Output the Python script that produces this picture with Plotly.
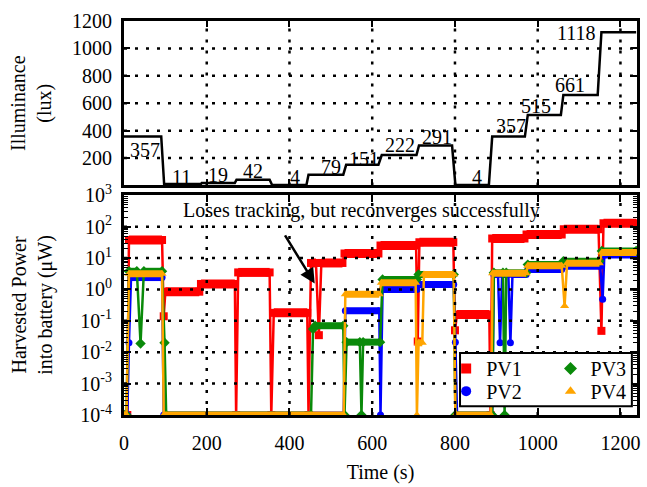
import math
import plotly.graph_objects as go

# ---------------- data ----------------
# Illuminance steps (lux)
seg_start = [0, 97, 188, 272, 358, 446, 537, 623, 713, 801, 890, 976, 1062, 1154]
seg_end = [90, 186, 268, 352, 441, 530, 615, 707, 793, 882, 969, 1056, 1145, 1238]
lux_levels = [357, 11, 19, 42, 4, 79, 151, 222, 291, 4, 357, 515, 661, 1118]

# label placement for the lux values (time, lux)
label_t = [50, 138, 227, 311, 413, 500, 579, 668, 757, 854, 935, 995, 1079, 1094]
label_y = [258, 64, 79, 107, 64, 136, 195, 293, 351, 64, 437, 580, 730, 1116]

B = 1e-4  # floor of the log axis
pv1_t = [0, 8, 12, 92, 96, 100, 182, 186, 268, 271, 276, 352, 356, 362, 443, 446, 452,
         464, 471, 477, 528, 533, 615, 620, 706, 710, 714, 796, 800, 805, 883, 886, 890,
         968, 973, 1058, 1063, 1147, 1154, 1159, 1238]
pv1_v = [B, B, 38, 38, 0.14, 0.85, 0.85, 1.5, 1.5, B, 3.5, 3.5, B, 0.18, 0.18, B, 7,
         7, 0.035, 7, 7, 14, 14, 25, 25, 0.022, 32, 32, 0.05, 0.16, 0.16, B, 42,
         42, 57, 57, 83, 83, 0.048, 130, 130]

pv2_t = [0, 8, 12, 17, 92, 96, 531, 535, 617, 620, 625, 708, 712, 797, 801, 805, 890,
         894, 904, 909, 914, 929, 934, 939, 972, 976, 1058, 1062, 1151, 1157, 1161, 1238]
pv2_v = [B, B, 0.02, 2.4, 2.4, B, B, 0.21, 0.21, B, 1.0, 1.0, 1.45, 1.45, 0.021, B, B,
         3.0, 3.0, 0.02, 3.0, 3.0, 0.02, 3.0, 3.0, 4.3, 4.3, 5.5, 5.5, 0.49, 12.5, 12.5]

pv3_t = [0, 6, 12, 31, 40, 48, 92, 98, 102, 452, 457, 462, 530, 533, 538, 570, 574, 578,
         619, 625, 708, 712, 797, 801, 890, 894, 916, 920, 924, 972, 976, 1058, 1062,
         1149, 1155, 1238]
pv3_v = [B, B, 3.8, 3.8, 0.019, 3.8, 3.8, 0.02, B, B, 0.055, 0.07, 0.07, B, 0.021, 0.021, B, 0.021,
         0.021, 2.1, 2.1, 3.0, 3.0, B, B, 3.4, 3.4, B, 3.4, 3.4, 6.2, 6.2, 7.9,
         7.9, 17, 17]

pv4_t = [0, 6, 12, 92, 96, 531, 535, 617, 622, 705, 708, 712, 721, 725, 797, 801, 887,
         891, 972, 976, 1058, 1065, 1071, 1149, 1155, 1238]
pv4_v = [B, B, 3.2, 3.2, B, B, 0.7, 0.7, 1.65, 1.65, B, 0.02, 0.02, 3.0, 3.0, B, B,
         3.3, 3.3, 5.7, 5.7, 0.3, 6.9, 6.9, 15, 15]

series = [
    ("PV1", pv1_t, pv1_v, "#ff0000", "square", 9, 8),
    ("PV2", pv2_t, pv2_v, "#0000ff", "circle", 7, 7),
    ("PV3", pv3_t, pv3_v, "#0a8a0a", "diamond", 7, 8),
    ("PV4", pv4_t, pv4_v, "#ffa500", "triangle-up", 7, 8),
]

x_ticks = [0, 200, 400, 600, 800, 1000, 1200]
lux_ticks = [200, 400, 600, 800, 1000, 1200]
pow_ticks = [1e-4, 1e-3, 1e-2, 1e-1, 1e0, 1e1, 1e2, 1e3]
pow_ticktext = ["10<sup>-4</sup>", "10<sup>-3</sup>", "10<sup>-2</sup>", "10<sup>-1</sup>",
                "10<sup>0</sup>", "10<sup>1</sup>", "10<sup>2</sup>", "10<sup>3</sup>"]
minor_vals = [k * 10.0 ** d for d in range(-4, 3) for k in range(2, 10)]

X_RANGE = [0, 1240]
LUX_RANGE = [0, 1200]
LOG_RANGE = [-4, 3]

FONT = "Liberation Serif"

# ---------------- figure ----------------
fig = go.Figure()

lux_t, lux_v = [], []
for s, e, v in zip(seg_start, seg_end, lux_levels):
    lux_t += [s, e]
    lux_v += [v, v]
fig.add_trace(go.Scatter(x=lux_t, y=lux_v, mode="lines", xaxis="x", yaxis="y",
                         line=dict(color="black", width=2.5), showlegend=False))

for name, t, v, col, sym, bw, ms in series:
    bx, by = [], []
    for i in range(len(t) - 1):
        if v[i] == v[i + 1]:
            bx += [t[i], t[i + 1], None]
            by += [v[i], v[i + 1], None]
    fig.add_trace(go.Scatter(x=bx, y=by, mode="lines", xaxis="x2", yaxis="y2",
                             line=dict(color=col, width=bw), showlegend=False,
                             hoverinfo="skip"))
    fig.add_trace(go.Scatter(x=t, y=v, mode="lines+markers", xaxis="x2", yaxis="y2",
                             line=dict(color=col, width=2.5),
                             marker=dict(symbol=sym, size=ms, color=col),
                             showlegend=False, name=name))

# legend entries (marker only), one small legend per entry:
# column 1 = PV1, PV2 ; column 2 = PV3, PV4
legend_ids = ["legend", "legend2", "legend3", "legend4"]
for idx in range(4):
    name, t, v, col, sym, bw, ms = series[idx]
    fig.add_trace(go.Scatter(x=[None], y=[None], mode="markers", xaxis="x2", yaxis="y2",
                             marker=dict(symbol=sym, size=10, color=col), name=name,
                             legend=legend_ids[idx]))

# ---------------- dotted grid drawn above the traces ----------------
GRID = dict(color="black", width=2.5, dash="3px,8px")
shapes = []
for xv in x_ticks[1:]:
    shapes.append(dict(type="line", xref="x", yref="y domain", x0=xv, x1=xv, y0=0, y1=1,
                       line=GRID, layer="above"))
    shapes.append(dict(type="line", xref="x2", yref="y2 domain", x0=xv, x1=xv, y0=0, y1=1,
                       line=GRID, layer="above"))
for yv in lux_ticks[:-1]:
    shapes.append(dict(type="line", xref="x domain", yref="y", x0=0, x1=1, y0=yv, y1=yv,
                       line=GRID, layer="above"))
for yv in pow_ticks[1:-1]:
    fy = (math.log10(yv) - LOG_RANGE[0]) / (LOG_RANGE[1] - LOG_RANGE[0])
    shapes.append(dict(type="line", xref="x2 domain", yref="y2 domain", x0=0, x1=1,
                       y0=fy, y1=fy, line=GRID, layer="above"))
# legend frame
shapes.append(dict(type="rect", xref="paper", yref="paper", x0=0.655, x1=0.990,
                   y0=0.0225, y1=0.1575, fillcolor="white",
                   line=dict(color="black", width=2), layer="above"))

annotations = []
for tx, ty, lv in zip(label_t, label_y, lux_levels):
    annotations.append(dict(x=tx, y=ty, xref="x", yref="y", text=str(lv), showarrow=False,
                            font=dict(family=FONT, size=20, color="black")))

annotations.append(dict(x=574, y=2.51, xref="x2", yref="y2",
                        text="Loses tracking, but reconverges successfully",
                        showarrow=False, font=dict(family=FONT, size=20, color="black")))
annotations.append(dict(x=461, y=0.19, xref="x2", yref="y2", ax=387, ay=1.77,
                        axref="x2", ayref="y2", text="", showarrow=True,
                        arrowhead=2, arrowsize=1.2, arrowwidth=2.5, arrowcolor="black",
                        standoff=0, startstandoff=0))

annotations.append(dict(x=-0.18, y=0.791, xref="paper", yref="paper",
                        text="Illuminance<br>(lux)", textangle=-90, showarrow=False,
                        font=dict(family=FONT, size=20, color="black"),
                        xanchor="center", yanchor="middle"))
annotations.append(dict(x=-0.18, y=0.279, xref="paper", yref="paper",
                        text="Harvested Power<br>into battery (μW)", textangle=-90,
                        showarrow=False, font=dict(family=FONT, size=20, color="black"),
                        xanchor="center", yanchor="middle"))

axis_common = dict(showline=True, linewidth=3, linecolor="black", mirror="ticks",
                   ticks="inside", tickcolor="black", zeroline=False, showgrid=False,
                   tickfont=dict(family=FONT, size=20, color="black"))

legend_common = dict(yanchor="top", xanchor="left", orientation="v",
                     bgcolor="rgba(0,0,0,0)", borderwidth=0,
                     font=dict(family=FONT, size=20, color="black"), itemwidth=30,
                     tracegroupgap=0)
legend_pos = [(0.628, 0.1675), (0.628, 0.1100), (0.8314, 0.1675), (0.8314, 0.1100)]

fig.update_layout(
    width=647, height=487,
    margin=dict(l=124, r=7, t=21, b=66),
    paper_bgcolor="white", plot_bgcolor="white",
    font=dict(family=FONT, size=20, color="black"),
    xaxis=dict(axis_common, domain=[0, 1], anchor="y", range=X_RANGE,
               tickvals=x_ticks, showticklabels=False, ticklen=6, tickwidth=2),
    yaxis=dict(axis_common, domain=[0.5825, 1], anchor="x", range=LUX_RANGE,
               tickvals=lux_ticks, ticklen=6, tickwidth=2, ticklabelstandoff=5),
    xaxis2=dict(axis_common, domain=[0, 1], anchor="y2", range=X_RANGE,
                tickvals=x_ticks, ticklen=7, tickwidth=2, ticklabelstandoff=8,
                title=dict(text="Time (s)", font=dict(family=FONT, size=20, color="black"),
                           standoff=12)),
    yaxis2=dict(axis_common, domain=[0, 0.5575], anchor="x2", type="log", range=LOG_RANGE,
                tickvals=pow_ticks, ticktext=pow_ticktext, ticklen=7, tickwidth=2,
                ticklabelstandoff=5,
                minor=dict(tickvals=minor_vals, ticks="inside", ticklen=4, tickwidth=1,
                           tickcolor="black", showgrid=False)),
    shapes=shapes,
    annotations=annotations,
)
layout_legends = {}
for lid, (lx, ly) in zip(legend_ids, legend_pos):
    layout_legends[lid] = dict(legend_common, x=lx, y=ly)
fig.update_layout(**layout_legends)

fig.write_html("out.html")
